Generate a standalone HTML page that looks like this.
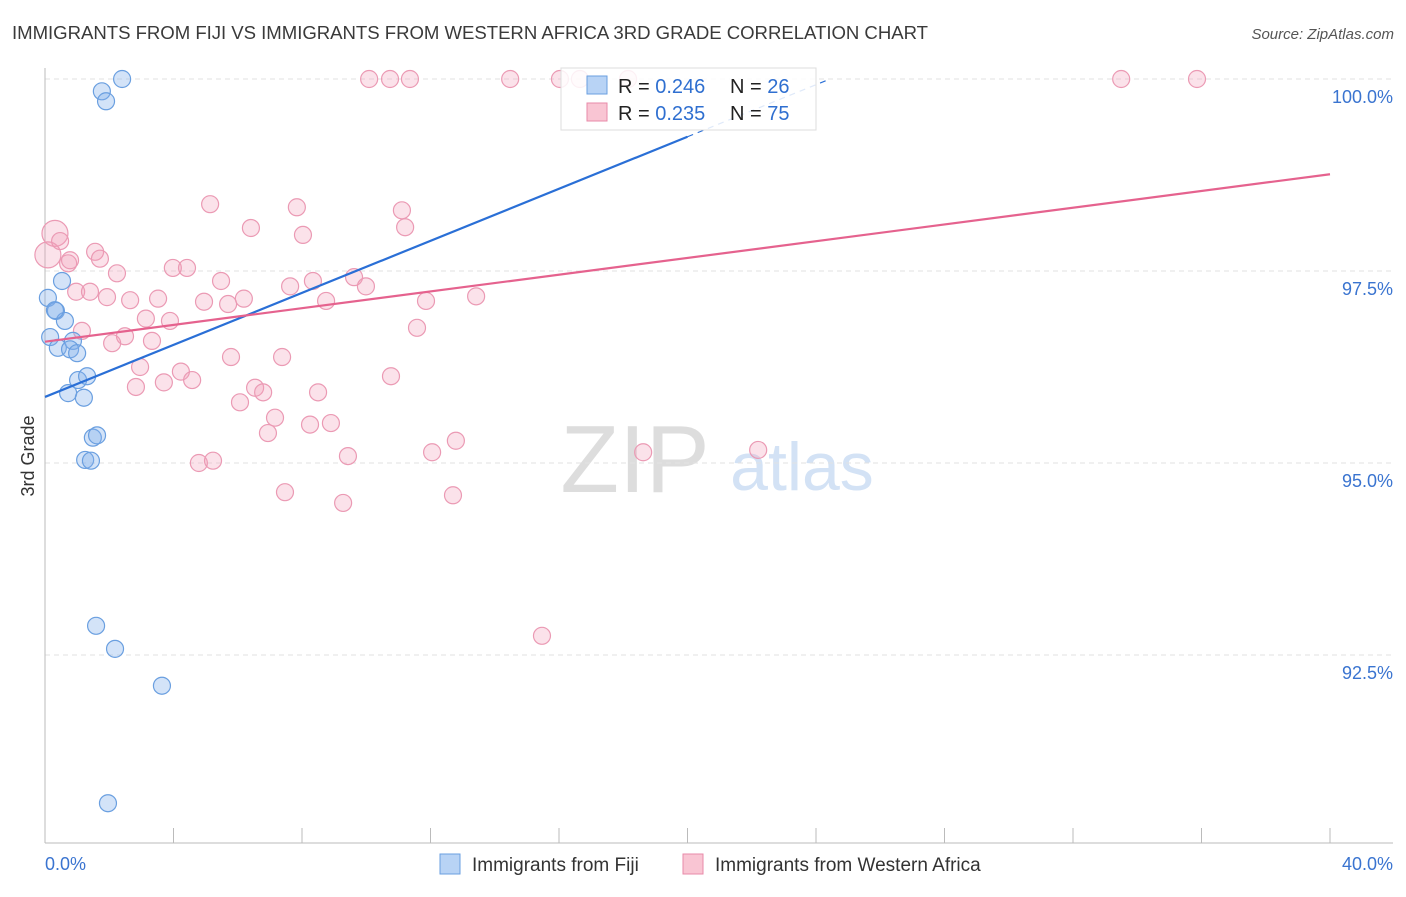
<!DOCTYPE html>
<html><head><meta charset="utf-8"><style>
body{margin:0;background:#fff;font-family:"Liberation Sans",sans-serif}
svg text{font-family:"Liberation Sans",sans-serif}
</style></head><body>
<svg width="1406" height="892" id="chart">
<text x="12" y="39" font-size="18.6" fill="#3a3a3a" textLength="916">IMMIGRANTS FROM FIJI VS IMMIGRANTS FROM WESTERN AFRICA 3RD GRADE CORRELATION CHART</text>
<text x="1394" y="39" font-size="15" fill="#555" font-style="italic" text-anchor="end">Source: ZipAtlas.com</text>
<text x="34" y="456" font-size="18" fill="#333" text-anchor="middle" transform="rotate(-90 34 456)">3rd Grade</text>
<text x="635" y="492" font-size="96" fill="#ddd" font-family="Liberation Serif" text-anchor="middle">ZIP</text>
<text x="802" y="490" font-size="68" fill="#d3e2f5" text-anchor="middle">atlas</text>
<g id="grid"></g><g id="axes"></g><g id="pts"></g><g id="trend"></g>
<g>
<rect x="561" y="68" width="255" height="62" fill="rgba(255,255,255,0.85)" stroke="#ddd"/>
<rect x="587" y="76" width="20" height="18" fill="#b8d3f5" stroke="#6a9fe0"/>
<text x="618" y="93" font-size="20" fill="#222">R = <tspan fill="#2f6fd0">0.246</tspan></text>
<text x="730" y="93" font-size="20" fill="#222">N = <tspan fill="#2f6fd0">26</tspan></text>
<rect x="587" y="103" width="20" height="18" fill="#f9c5d3" stroke="#e88aa8"/>
<text x="618" y="120" font-size="20" fill="#222">R = <tspan fill="#2f6fd0">0.235</tspan></text>
<text x="730" y="120" font-size="20" fill="#222">N = <tspan fill="#2f6fd0">75</tspan></text>
</g>
<g>
<rect x="440" y="854" width="20" height="20" fill="#b8d3f5" stroke="#6a9fe0"/>
<text x="472" y="871" font-size="19" fill="#333">Immigrants from Fiji</text>
<rect x="683" y="854" width="20" height="20" fill="#f9c5d3" stroke="#e88aa8"/>
<text x="715" y="871" font-size="19" fill="#333">Immigrants from Western Africa</text>
</g>
</svg>
<script>
const fijiX=[2.40,1.77,1.90,0.53,0.09,0.34,0.62,0.16,0.87,0.40,0.78,1.00,1.03,1.31,0.72,1.21,1.49,1.62,1.25,1.43,1.59,2.18,3.64,1.96,0.31];
const fijiY=[100,99.84,99.71,97.37,97.15,96.98,96.85,96.64,96.59,96.50,96.48,96.43,96.08,96.13,95.91,95.85,95.33,95.36,95.04,95.03,92.88,92.58,92.10,90.57,96.99];
const afrX=[0.31,0.09,0.47,0.72,0.78,1.56,1.71,2.24,0.97,1.40,1.93,2.65,3.52,1.15,2.09,2.49,3.14,3.33,3.98,4.42,5.14,6.41,7.84,8.03,5.48,4.95,5.70,6.19,7.63,8.34,8.75,9.62,9.99,11.11,11.21,11.86,11.58,13.42,3.89,2.96,2.83,3.70,4.23,4.58,5.79,6.07,6.54,6.79,7.38,7.16,6.94,8.25,8.50,8.90,9.43,4.79,5.23,7.47,9.28,10.77,12.05,12.79,12.70,18.62,22.20,15.47,10.09,10.74,11.36,14.48,16.03,16.65,18.15,33.50,35.86];
const afrY=[97.99,97.71,97.89,97.60,97.64,97.75,97.66,97.47,97.23,97.23,97.16,97.12,97.14,96.72,96.56,96.65,96.88,96.59,97.54,97.54,98.37,98.06,98.33,97.97,97.37,97.10,97.07,97.14,97.30,97.37,97.11,97.42,97.30,98.29,98.07,97.11,96.76,97.17,96.85,96.25,95.99,96.05,96.19,96.08,96.38,95.79,95.98,95.92,96.38,95.59,95.39,95.50,95.92,95.52,95.09,95.00,95.03,94.62,94.48,96.13,95.14,95.29,94.58,95.14,95.17,92.75,100,100,100,100,100,100,100,100,100];
const yTicks=[100,97.5,95,92.5];
const yTickLabels=["100.0%","97.5%","95.0%","92.5%"];
const xTickVals=[0,4,8,12,16,20,24,28,32,36,40];
const fijiTrend=[95.86,0.1694];
const afrTrend=[96.58,0.0545];
const NS="http://www.w3.org/2000/svg";
const X=v=>45+v*1285/40, Y=v=>79+(100-v)*192/2.5;
function mk(t,a,p){const e=document.createElementNS(NS,t);for(const k in a)e.setAttribute(k,a[k]);p.appendChild(e);return e;}
const grid=document.getElementById('grid'),axes=document.getElementById('axes'),pts=document.getElementById('pts'),tr=document.getElementById('trend');
yTicks.forEach((v,i)=>{
 const l=mk('line',{x1:45,x2:1393,y1:Y(v),y2:Y(v),stroke:'#e2e2e2','stroke-dasharray':'5,4'},grid);
 
 
 const t=mk('text',{x:1393,y:Y(v)+24,'font-size':18,fill:'#3a74d0','text-anchor':'end'},grid);
 t.textContent=yTickLabels[i];
 
 
});
const ya=mk('line',{x1:45,x2:45,y1:68,y2:843,stroke:'#bbb'},axes);


const xa=mk('line',{x1:45,x2:1393,y1:843,y2:843,stroke:'#bbb'},axes);


xTickVals.forEach(v=>{
 const t=mk('line',{x1:X(v),x2:X(v),y1:828,y2:843,stroke:'#bbb'},axes);
 
 
});
const l0=mk('text',{x:45,y:870,'font-size':18,fill:'#3a74d0'},axes);l0.textContent='0.0%';


const l1=mk('text',{x:1393,y:870,'font-size':18,fill:'#3a74d0','text-anchor':'end'},axes);l1.textContent='40.0%';


afrX.forEach((x,i)=>{
 const r=i<2?13:8.5;
 const c=mk('circle',{cx:X(x),cy:Y(afrY[i]),r:r,fill:'rgba(243,160,185,0.3)',stroke:'#eb9ab4','stroke-width':1.2},pts);
 
 
});
fijiX.forEach((x,i)=>{
 const c=mk('circle',{cx:X(x),cy:Y(fijiY[i]),r:8.5,fill:'rgba(130,175,235,0.35)',stroke:'#6a9fe0','stroke-width':1.2},pts);
 
 
});
const fy=x=>fijiTrend[0]+fijiTrend[1]*x, ay=x=>afrTrend[0]+afrTrend[1]*x;
const b1=mk('line',{x1:X(0),y1:Y(fy(0)),x2:X(20),y2:Y(fy(20)),stroke:'#2a6fd6','stroke-width':2.2},tr);


const b2=mk('line',{x1:X(20),y1:Y(fy(20)),x2:X(24.4),y2:Y(fy(24.4)),stroke:'#2a6fd6','stroke-width':1.2,'stroke-dasharray':'6,5'},tr);


const p1=mk('line',{x1:X(0),y1:Y(ay(0)),x2:X(40),y2:Y(ay(40)),stroke:'#e5628e','stroke-width':2.2},tr);


</script>
</body></html>
